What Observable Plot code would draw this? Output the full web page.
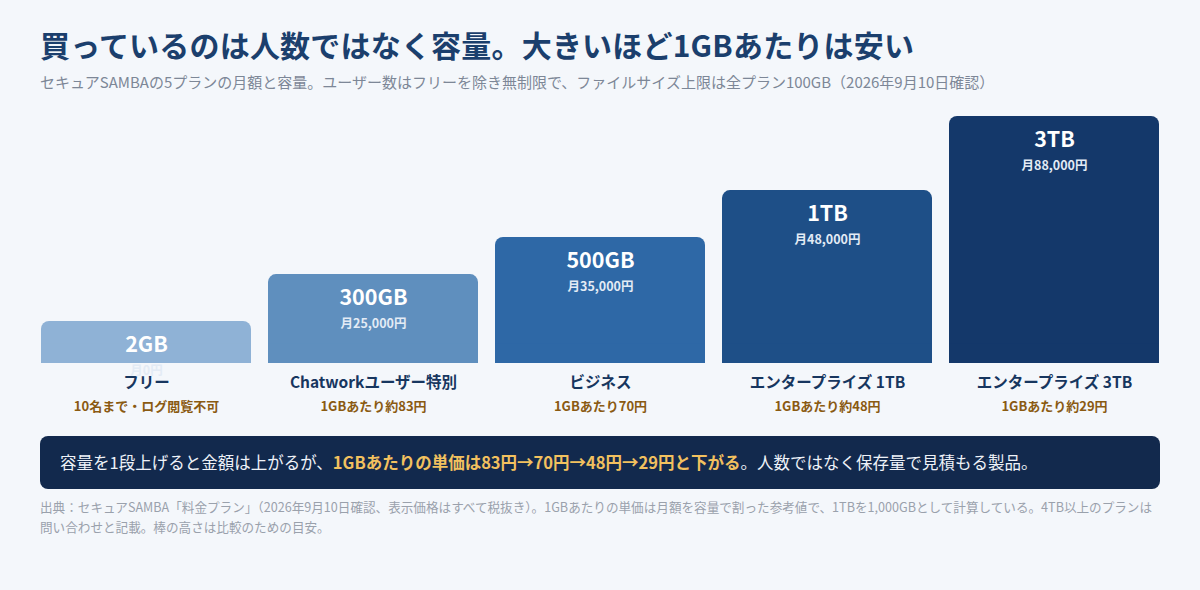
<!DOCTYPE html>
<html lang="ja">
<head>
<meta charset="utf-8">
<script src="https://cdn.jsdelivr.net/npm/d3@7"></script>
<script src="https://cdn.jsdelivr.net/npm/@observablehq/plot@0.6"></script>
<style>
  html, body { margin: 0; padding: 0; background: #f4f7fb; }
  body { width: 1200px; height: 590px; overflow: hidden; font-family: "Noto Sans CJK JP", "Noto Sans", sans-serif; }
  .wrap { padding: 0 40px; }
  h1 { margin: 0; padding-top: 26px; font-size: 30px; line-height: 36px; font-weight: 700; color: #1b3f6d; letter-spacing: 0.2px; }
  .sub { margin-top: 10px; font-size: 15px; line-height: 20px; color: #7d8797; }
  #chart { margin-left: -40px; margin-top: 8px; width: 1200px; height: 330px; }
  #chart svg { display: block; max-width: none !important; }
  .callout { margin-top: 6px; height: 53px; background: #12294d; border-radius: 8px; color: #eef2f8; font-size: 16.5px; line-height: 53px; padding-left: 20px; }
  .callout b { color: #f2c15f; font-weight: 700; }
  .foot { margin-top: 8px; font-size: 12.6px; line-height: 20px; color: #9aa1ac; width: 1115px; }
</style>
</head>
<body>
<div class="wrap">
  <h1>買っているのは人数ではなく容量。大きいほど1GBあたりは安い</h1>
  <div class="sub">セキュアSAMBAの5プランの月額と容量。ユーザー数はフリーを除き無制限で、ファイルサイズ上限は全プラン100GB（2026年9月10日確認）</div>
  <div id="chart"></div>
  <div class="callout">容量を1段上げると金額は上がるが、<b>1GBあたりの単価は83円→70円→48円→29円と下がる</b>。人数ではなく保存量で見積もる製品。</div>
  <div class="foot">出典：セキュアSAMBA「料金プラン」（2026年9月10日確認、表示価格はすべて税抜き）。1GBあたりの単価は月額を容量で割った参考値で、1TBを1,000GBとして計算している。4TB以上のプランは問い合わせと記載。棒の高さは比較のための目安。</div>
</div>
<script>
const plans = ["フリー", "Chatworkユーザー特別", "ビジネス", "エンタープライズ 1TB", "エンタープライズ 3TB"];
const capacities = ["2GB", "300GB", "500GB", "1TB", "3TB"];
const prices = ["月0円", "月25,000円", "月35,000円", "月48,000円", "月88,000円"];
const perGB = ["10名まで・ログ閲覧不可", "1GBあたり約83円", "1GBあたり70円", "1GBあたり約48円", "1GBあたり約29円"];
const barHeight = [17, 36, 51, 70, 100]; // 棒の高さ（比較のための目安、3TB=100）
const colors = ["#8fb2d6", "#5f8fbe", "#2e68a6", "#1e4f87", "#14386a"];

const data = plans.map((p, i) => ({
  plan: p, cap: capacities[i], price: prices[i], per: perGB[i], h: barHeight[i], color: colors[i]
}));

const chart = Plot.plot({
  width: 1200,
  height: 330,
  marginLeft: 40,
  marginRight: 40,
  marginTop: 16,
  marginBottom: 67,
  style: { background: "transparent", fontFamily: "\"Noto Sans CJK JP\", \"Noto Sans\", sans-serif" },
  x: { domain: plans, axis: null, paddingInner: 0.077, paddingOuter: 0 },
  y: { domain: [0, 100], axis: null },
  color: { type: "identity" },
  marks: [
    Plot.barY(data, { x: "plan", y: "h", fill: "color", rx: 8 }),
    Plot.barY(data, { x: "plan", y1: 0, y2: d => Math.min(d.h, 8), fill: "color" }),
    Plot.text(data, { x: "plan", y: "h", text: "cap", dy: 24, fill: "white", fontSize: 21.5, fontWeight: 700 }),
    Plot.text(data, { x: "plan", y: "h", text: "price", dy: 49, fill: "#e3ebf5", fontSize: 12.5, fontWeight: 700 }),
    Plot.text(data, { x: "plan", y: 0, text: "plan", dy: 20, fill: "#17365f", fontSize: 15.5, fontWeight: 700 }),
    Plot.text(data, { x: "plan", y: 0, text: "per", dy: 43, fill: "#8a5a12", fontSize: 13, fontWeight: 700 })
  ]
});
document.getElementById("chart").appendChild(chart);
</script>
</body>
</html>
